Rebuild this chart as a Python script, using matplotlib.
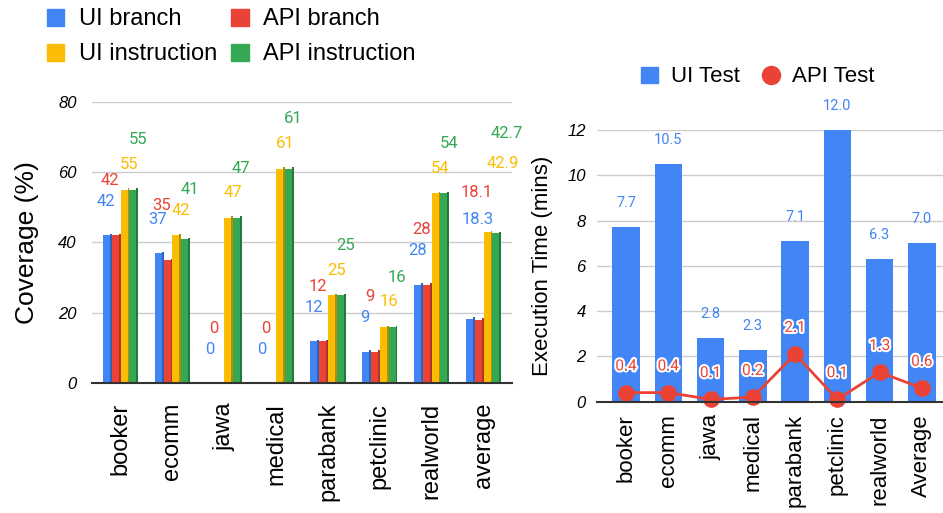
import matplotlib.pyplot as plt
from matplotlib.patches import Patch
from matplotlib.lines import Line2D
import matplotlib.patheffects as pe

# coverage per project (%)
projects = ["booker", "ecomm", "jawa", "medical", "parabank", "petclinic", "realworld", "average"]
ui_branch = [42, 37, 0, 0, 12, 9, 28, 18.3]
api_branch = [42, 35, 0, 0, 12, 9, 28, 18.1]
ui_instruction = [55, 42, 47, 61, 25, 16, 54, 42.9]
api_instruction = [55, 41, 47, 61, 25, 16, 54, 42.7]
cov_labels = ["UI branch", "API branch", "UI instruction", "API instruction"]

# execution time per project (mins)
apps = ["booker", "ecomm", "jawa", "medical", "parabank", "petclinic", "realworld", "Average"]
ui_time = [7.7, 10.5, 2.8, 2.3, 7.1, 12.0, 6.3, 7.0]
api_time = [0.4, 0.4, 0.1, 0.2, 2.1, 0.1, 1.3, 0.6]

BLUE, RED, YELLOW, GREEN = "#4285F4", "#EA4335", "#FBBC04", "#34A853"
SIDE = ["#2F63B8", "#B0332A", "#B88A05", "#24783B"]
colors = [BLUE, RED, YELLOW, GREEN]

plt.rcParams['font.family'] = ['Liberation Sans', 'DejaVu Sans']

fig = plt.figure(figsize=(9.43, 5.13), dpi=100)

# ---- left: coverage ----
ax = fig.add_axes([0.0976, 0.2528, 0.4454, 0.549])
series = [ui_branch, api_branch, ui_instruction, api_instruction]
slot, face, side = 0.17, 0.135, 0.035
lab_dx = [-0.28, -0.2, 0.17, 0.33]
lab_dy = [7.5, 13.5, 5.0, 12.0]
# wide labels in the last group sit higher and further apart
last_dx = [-0.11, -0.14, 0.38, 0.44]
last_dy = [26.0, 34.0, 17.5, 26.0]
for i, vals in enumerate(series):
    for g, v in enumerate(vals):
        x = g + (i - 1.5) * slot
        if v > 0:
            ax.bar(x - side / 2, v, width=face, color=colors[i], zorder=3)
            ax.bar(x + face / 2, v + 0.4, width=side, color=SIDE[i], zorder=3)
        txt = f"{v:g}"
        if g == len(vals) - 1:
            tx, ty = g + last_dx[i], v + last_dy[i]
        else:
            tx, ty = g + lab_dx[i], v + lab_dy[i]
        ax.text(tx, ty, txt, color=colors[i], fontsize=12, family='Roboto',
                ha='center', va='bottom', zorder=4, clip_on=False)

ax.set_xlim(-0.55, 7.55)
ax.set_ylim(0, 80)
ax.set_yticks([0, 20, 40, 60, 80])
ax.set_xticks(range(len(projects)))
ax.set_xticklabels(projects, rotation=90, fontsize=17)
ax.tick_params(axis='x', length=0, pad=14)
ax.tick_params(axis='y', length=0, pad=11, labelsize=12)
for t in ax.get_yticklabels():
    t.set_style('italic')
ax.yaxis.grid(True, color='#cccccc', lw=1, zorder=0)
for s in ['top', 'right', 'left']:
    ax.spines[s].set_visible(False)
ax.spines['bottom'].set_color('#333333')
ax.spines['bottom'].set_linewidth(1.5)
ax.spines['bottom'].set_zorder(5)
ax.set_ylabel("Coverage (%)", fontsize=19, labelpad=14)

fig.legend(handles=[Patch(color=colors[k], label=cov_labels[k]) for k in [0, 2, 1, 3]],
           loc='upper left', bbox_to_anchor=(0.027, 1.025), ncol=2, frameon=False,
           fontsize=17, handlelength=0.75, handleheight=0.75, handletextpad=0.6,
           columnspacing=0.6, labelspacing=0.55)

# ---- right: execution time ----
ax2 = fig.add_axes([0.633, 0.217, 0.367, 0.5296])
xs = range(len(apps))
ax2.bar(xs, ui_time, width=0.65, color=BLUE, zorder=3)
ax2.plot(xs, api_time, color=RED, lw=2, marker='o', markersize=11, zorder=4,
         clip_on=False)
for x, v in zip(xs, ui_time):
    ax2.text(x, v + 0.75, f"{v:.1f}", color=BLUE, fontsize=10.5, family='Roboto',
             ha='center', va='bottom', zorder=5, clip_on=False)
for x, v in zip(xs, api_time):
    ax2.text(x, v + 0.85, f"{v:.1f}", color=RED, fontsize=11, family='Roboto',
             ha='center', va='bottom', zorder=5,
             path_effects=[pe.withStroke(linewidth=3, foreground='white')])

ax2.set_xlim(-0.69, 7.5)
ax2.set_ylim(0, 12)
ax2.set_yticks([0, 2, 4, 6, 8, 10, 12])
ax2.set_xticks(list(xs))
ax2.set_xticklabels(apps, rotation=90, fontsize=16)
ax2.tick_params(axis='x', length=0, pad=9)
ax2.tick_params(axis='y', length=0, pad=8, labelsize=12)
for t in ax2.get_yticklabels():
    t.set_style('italic')
ax2.yaxis.grid(True, color='#cccccc', lw=1, zorder=0)
for s in ['top', 'right', 'left']:
    ax2.spines[s].set_visible(False)
ax2.spines['bottom'].set_color('#333333')
ax2.spines['bottom'].set_linewidth(1.5)
ax2.spines['bottom'].set_zorder(5)
ax2.set_ylabel("Execution Time (mins)", fontsize=16, labelpad=10)

fig.legend(handles=[Patch(color=BLUE, label="UI Test"),
                    Line2D([], [], color=RED, marker='o', lw=0, markersize=13, label="API Test")],
           loc='center', bbox_to_anchor=(758 / 943, 1 - 77 / 513), ncol=2, frameon=False,
           fontsize=16, handlelength=0.75, handleheight=0.75, handletextpad=0.6,
           columnspacing=1.0)

fig.savefig("out.png", dpi=100)
